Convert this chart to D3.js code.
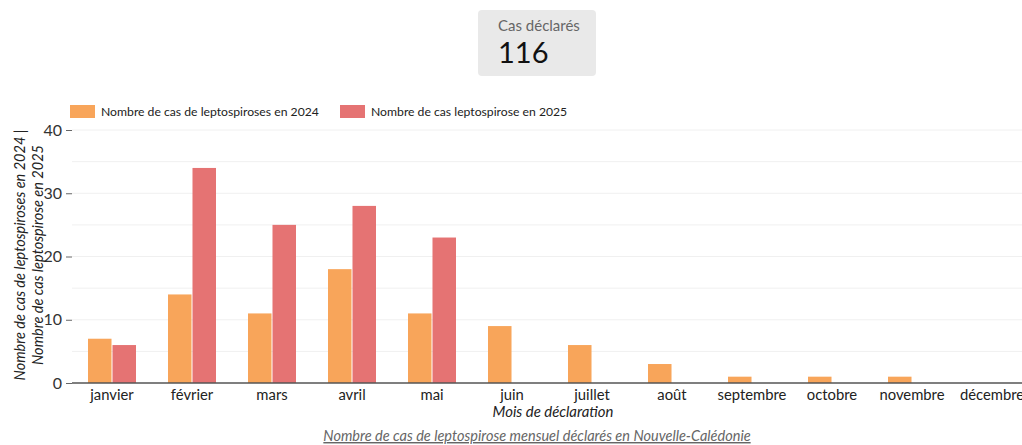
<!DOCTYPE html>
<html>
<head>
<meta charset="utf-8">
<script src="https://cdn.jsdelivr.net/npm/d3@7"></script>
<style>
  html, body { margin: 0; padding: 0; background: #fff; }
  svg { display: block; font-family: Lato, "Open Sans", sans-serif; }
</style>
</head>
<body>
<svg id="chart" width="1022" height="445"></svg>
<script>
// Monthly declared leptospirosis cases, New Caledonia
const months = ["janvier", "février", "mars", "avril", "mai", "juin", "juillet",
                "août", "septembre", "octobre", "novembre", "décembre"];
const cases2024 = [7, 14, 11, 18, 11, 9, 6, 3, 1, 1, 1, 0];
const cases2025 = [6, 34, 25, 28, 23, null, null, null, null, null, null, null];
const seriesNames = ["Nombre de cas de leptospiroses en 2024", "Nombre de cas leptospirose en 2025"];
const yTicks = [0, 10, 20, 30, 40];
const gridValues = [5, 10, 15, 20, 25, 30, 35, 40];

const colors = ["#F8A55A", "#E57373"];

const svg = d3.select("#chart");
const margin = { left: 72, top: 130, bottom: 383 };

// KPI box: total declared in 2025
const total = d3.sum(cases2025.filter(v => v != null));
const kpi = svg.append("g");
kpi.append("rect").attr("x", 478).attr("y", 10).attr("width", 118).attr("height", 66)
  .attr("rx", 4).attr("fill", "#e9e9e9");
kpi.append("text").attr("x", 498).attr("y", 31).attr("font-size", 15).attr("fill", "#666")
  .text("Cas déclarés");
kpi.append("text").attr("x", 498).attr("y", 63).attr("font-size", 29).attr("fill", "#111")
  .text(total);

// Scales
const x0 = d3.scaleBand().domain(months).range([margin.left, margin.left + 80 * 12]).paddingInner(0.4).paddingOuter(0.2);
const x1 = d3.scaleBand().domain([0, 1]).range([0, x0.bandwidth()]).paddingInner(0.04);
const y = d3.scaleLinear().domain([0, 40]).range([margin.bottom, margin.top]);

// Grid
svg.append("g").selectAll("line").data(gridValues).join("line")
  .attr("x1", margin.left).attr("x2", 1022)
  .attr("y1", d => y(d)).attr("y2", d => y(d))
  .attr("stroke", "#f0f0f0").attr("stroke-width", 1);

// Bars
const groups = svg.append("g").selectAll("g").data(months).join("g")
  .attr("transform", d => `translate(${x0(d)},0)`);
[cases2024, cases2025].forEach((series, si) => {
  groups.append("rect")
    .filter((d, i) => series[i] != null && series[i] > 0)
    .attr("x", x1(si))
    .attr("width", x1.bandwidth())
    .attr("y", (d) => y(series[months.indexOf(d)]))
    .attr("height", (d) => y(0) - y(series[months.indexOf(d)]))
    .attr("fill", colors[si]);
});

// Y axis
const yAxis = svg.append("g").attr("transform", `translate(${margin.left},0)`)
  .call(d3.axisLeft(y).tickValues(yTicks).tickSize(6).tickPadding(4));
yAxis.select(".domain").remove();
yAxis.selectAll(".tick line").attr("stroke", "#666");
yAxis.selectAll("text").attr("font-size", 16).attr("fill", "#333").attr("font-family", "Lato, sans-serif");

// X axis
const xAxis = svg.append("g").attr("transform", `translate(0,${y(0)})`)
  .call(d3.axisBottom(x0).tickSize(0).tickPadding(6));
xAxis.select(".domain").attr("stroke", "#555").attr("stroke-width", 1.5)
  .attr("d", `M${margin.left},0H1022`);
xAxis.selectAll("text").attr("font-size", 14.8).attr("fill", "#222").attr("font-family", "Lato, sans-serif");

// Axis titles
svg.append("text").attr("x", 553).attr("y", 417).attr("text-anchor", "middle")
  .attr("font-size", 14.9).attr("font-style", "italic").attr("fill", "#222")
  .text("Mois de déclaration");
const yTitle = svg.append("text").attr("transform", "translate(25,255) rotate(-90)")
  .attr("text-anchor", "middle").attr("font-size", 14.5).attr("font-style", "italic").attr("fill", "#222");
yTitle.append("tspan").attr("x", 0).attr("dy", 0).text("Nombre de cas de leptospiroses en 2024 |");
yTitle.append("tspan").attr("x", 0).attr("dy", 18).text("Nombre de cas leptospirose en 2025");

// Legend
const legend = svg.append("g");
[[70, 0], [340, 1]].forEach(([lx, i]) => {
  legend.append("rect").attr("x", lx).attr("y", 105).attr("width", 25).attr("height", 13).attr("fill", colors[i]);
  legend.append("text").attr("x", lx + 31).attr("y", 116).attr("font-size", 12.2).attr("fill", "#222")
    .text(seriesNames[i]);
});

// Caption
svg.append("text").attr("x", 537).attr("y", 441).attr("text-anchor", "middle")
  .attr("font-size", 14.5).attr("font-style", "italic").attr("fill", "#666")
  .attr("text-decoration", "underline")
  .text("Nombre de cas de leptospirose mensuel déclarés en Nouvelle-Calédonie");
</script>
</body>
</html>
